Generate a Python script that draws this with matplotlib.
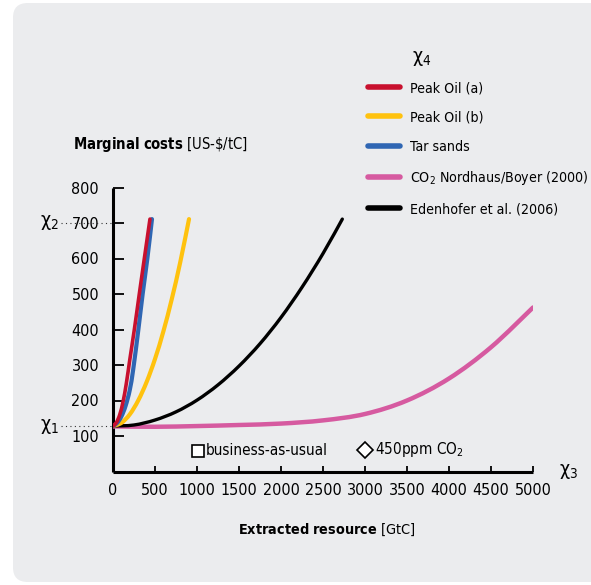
import matplotlib
matplotlib.use("Agg")
import matplotlib.pyplot as plt
from matplotlib.patches import FancyBboxPatch, PathPatch
from matplotlib.path import Path
from matplotlib.lines import Line2D

plt.rcParams['font.family'] = ['DejaVu Sans']
plt.rcParams['font.stretch'] = 'condensed'
plt.rcParams['mathtext.fontset'] = 'custom'
plt.rcParams['mathtext.rm'] = 'DejaVu Sans:stretch=condensed'
plt.rcParams['mathtext.it'] = 'DejaVu Sans:stretch=condensed'
plt.rcParams['mathtext.bf'] = 'DejaVu Sans:bold:stretch=condensed'

# ---- data ----
red_x = [0, 40, 80, 120, 160, 200, 254, 313, 373, 440]
red_y = [128, 138, 160, 197, 250, 315, 400, 500, 600, 711]
blue_x = [0, 50, 100, 150, 200, 242, 302, 353, 409, 464]
blue_y = [128, 137, 155, 185, 230, 290, 400, 500, 600, 711]
yellow_x = [0, 100, 200, 300, 400, 500, 600, 700, 800, 905]
yellow_y = [128, 137, 161, 200, 252, 317, 395, 486, 589, 711]
black_x = [0, 250, 500, 750, 1000, 1250, 1500, 1750, 2000, 2250, 2500, 2730]
black_y = [128, 131, 145, 168, 201, 244, 297, 360, 434, 519, 614, 711]
pink_x = [0, 500, 1000, 1500, 2000, 2500, 3000, 3500, 4000, 4500, 5000]
pink_y = [127, 126, 128, 131, 135, 144, 162, 200, 262, 350, 462]

series_names = ['Peak Oil (a)', 'Peak Oil (b)', 'Tar sands',
                'CO$_2$ Nordhaus/Boyer (2000)', 'Edenhofer et al. (2006)']
colors = ['#C8102E', '#FFC20E', '#2F66B3', '#D65AA0', '#000000']

x_ticks = [0, 500, 1000, 1500, 2000, 2500, 3000, 3500, 4000, 4500, 5000]
y_ticks = [100, 200, 300, 400, 500, 600, 700, 800]
chi1_val = 128
chi2_val = 700
bau_pos = (1006, 58)
ppm_pos = (3004, 61)


def smooth_path(xs, ys):
    """Smooth curve through the given points (Catmull-Rom drawn as cubic Beziers)."""
    pts = list(zip(xs, ys))
    verts = [pts[0]]
    codes = [Path.MOVETO]
    n = len(pts)
    for i in range(n - 1):
        p0 = pts[i - 1] if i > 0 else pts[i]
        p1 = pts[i]
        p2 = pts[i + 1]
        p3 = pts[i + 2] if i + 2 < n else pts[i + 1]
        c1 = (p1[0] + (p2[0] - p0[0]) / 6.0, p1[1] + (p2[1] - p0[1]) / 6.0)
        c2 = (p2[0] - (p3[0] - p1[0]) / 6.0, p2[1] - (p3[1] - p1[1]) / 6.0)
        verts += [c1, c2, p2]
        codes += [Path.CURVE4] * 3
    return Path(verts, codes)


def draw_curve(ax, xs, ys, color, lw, z):
    patch = PathPatch(smooth_path(xs, ys), facecolor='none', edgecolor=color,
                      lw=lw, capstyle='round', joinstyle='round', zorder=z)
    ax.add_patch(patch)


fig = plt.figure(figsize=(5.91, 5.85), dpi=100)
fig.patch.set_facecolor('white')

# background panel
panel = FancyBboxPatch((13 / 591, 3 / 585), 600 / 591, 579 / 585,
                       boxstyle="round,pad=0,rounding_size=0.025",
                       transform=fig.transFigure, facecolor='#EBECEE',
                       edgecolor='none', zorder=-10)
fig.patches.append(panel)

ax = fig.add_axes([113 / 591, (585 - 471.5) / 585, 420 / 591, 284 / 585])
ax.set_zorder(5)
ax.set_facecolor('none')
ax.set_xlim(0, 5000)
ax.set_ylim(0, 800)

draw_curve(ax, pink_x, pink_y, colors[3], 3.2, 3)
draw_curve(ax, black_x, black_y, colors[4], 2.4, 4)
draw_curve(ax, yellow_x, yellow_y, colors[1], 3.0, 4)
draw_curve(ax, blue_x, blue_y, colors[2], 3.0, 5)
draw_curve(ax, red_x, red_y, colors[0], 2.6, 6)

for s in ['top', 'right']:
    ax.spines[s].set_visible(False)
for s in ['left', 'bottom']:
    ax.spines[s].set_linewidth(2.2)
    ax.spines[s].set_capstyle('butt')

ax.set_xticks(x_ticks)
ax.set_xticklabels([str(v) for v in x_ticks])
ax.set_yticks(y_ticks)
ax.set_yticklabels([str(v) for v in y_ticks])
ax.tick_params(axis='x', direction='in', length=4, width=1.3, labelsize=11.5, pad=8)
ax.tick_params(axis='y', direction='in', length=8, width=1.3, labelsize=11.5, pad=10)
ax.xaxis.get_major_ticks()[0].tick1line.set_visible(False)

# dotted guide lines for chi1 and chi2
ax.plot([-620, 0], [chi1_val, chi1_val], clip_on=False,
        color='#333333', lw=0.8, ls=(0, (1, 3)))
ax.plot([-620, 0], [chi2_val, chi2_val], clip_on=False,
        color='#333333', lw=0.8, ls=(0, (1, 3)))
ax.text(-640, chi1_val, r'$\mathrm{\chi}_{1}$', ha='right', va='center', fontsize=14, clip_on=False)
ax.text(-640, chi2_val, r'$\mathrm{\chi}_{2}$', ha='right', va='center', fontsize=14, clip_on=False)
ax.text(5420, 0, r'$\mathrm{\chi}_{3}$', ha='center', va='center', fontsize=14, clip_on=False)

# axis titles
fig.text(160 / 591, 1 - 145 / 585, r'$\mathbf{Marginal\ costs}$ [US-\$/tC]',
         ha='center', va='center', fontsize=10.6)
fig.text(327 / 591, 1 - 530 / 585, r'$\mathbf{Extracted\ resource}$ [GtC]',
         ha='center', va='center', fontsize=10.4)

# scenario markers
ax.plot([bau_pos[0]], [bau_pos[1]], marker='s', ms=8.5, mfc='white', mec='black',
        mew=1.2, clip_on=False, zorder=7)
ax.text(bau_pos[0] + 100, bau_pos[1], 'business-as-usual', ha='left', va='center', fontsize=11)
ax.plot([ppm_pos[0]], [ppm_pos[1]], marker='D', ms=8.5, mfc='white', mec='black',
        mew=1.2, clip_on=False, zorder=7)
ax.text(ppm_pos[0] + 110, ppm_pos[1] + 2, r'450ppm CO$_2$', ha='left', va='center', fontsize=11)

# legend
handles = [Line2D([0], [0], color=c, lw=4.0, solid_capstyle='round') for c in colors]
leg = fig.legend(handles, series_names, loc='upper left',
                 bbox_to_anchor=(368 / 591, 1 - 81 / 585), frameon=False,
                 fontsize=10.2, handlelength=2.25, handletextpad=0.75,
                 labelspacing=1.08, borderaxespad=0, borderpad=0)
fig.text(422 / 591, 1 - 58 / 585, r'$\mathrm{\chi}_{4}$', ha='center', va='center', fontsize=14)

fig.savefig('out.png', dpi=100, facecolor='white')
